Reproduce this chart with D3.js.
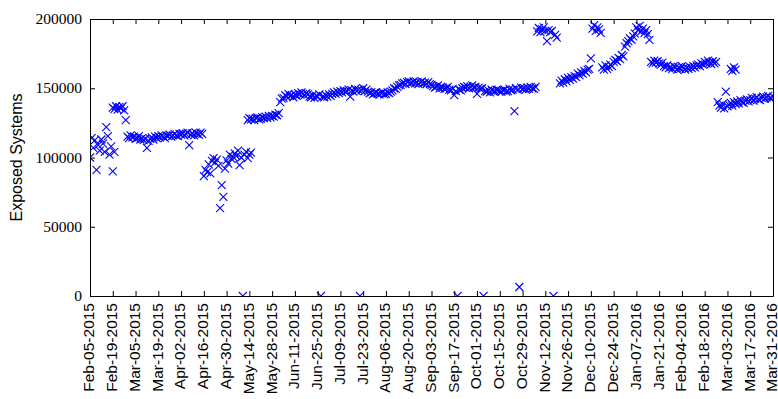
<!DOCTYPE html>
<html>
<head>
<meta charset="utf-8">
<script src="https://cdn.jsdelivr.net/npm/d3@7"></script>
<style>
  body { margin: 0; background: #fff; }
  svg { display: block; }
</style>
</head>
<body>
<svg id="chart" width="778" height="399"></svg>
<script>
// Daily counts of exposed systems, grouped in runs of consecutive days.
// Each run starts on the given date; some runs overlap where two readings exist.
const febScatter15 = [100000, 114000, 107000, 112500, 91000, 109000, 105000, 113000, 110000, 104000, 122000, 115500, 102000, 108000, 90000, 104000];
const febPlateau15 = [136000, 135000, 137000, 134500, 136500, 135500, 137000, 134000, 127000];
const marBand15 = [
  115000, 114000, 116000, 114500, 115000, 113500, 114000, 115500, 113000, 114000,
  112500, 113500, 107000, 112000, 113500, 114500, 113000, 115000, 114000, 115500,
  114500, 116000, 115000, 114000, 116000, 115500, 116500, 115000, 116000, 117000,
  116000, 115500, 117000, 116500, 117500, 116000, 117000, 118000, 109000, 116500,
  117500, 116000, 118000, 117000, 116500, 118000, 117000
];
const aprDip15 = [
  86500, 91000, 89500, 95000, 88500, 97500, 99500, 96500, 98500, 94000,
  63500, 80000, 71500, 92000, 98000, 95500, 102000, 99000, 100500, 103000,
  101000, 105000, 94500, 100000, 0, 102000, 104000, 99500, 102000, 103500
];
const mayPlateau15 = [127000, 128500, 127500, 128000, 127000, 128500, 129000, 127500, 128000, 129000, 128500, 129500, 128500, 130000, 129000, 130000, 129500, 131000, 130500, 132000];
const summer15 = [
  140000, 142500, 143000, 145000, 144000, 146000, 144500, 145000, 143500, 145500,
  144500, 146500, 145500, 147000, 146000, 145000, 146500, 145500, 144000,
  143500, 145000, 143000, 144500, 144000, 145500, 0, 144000, 143500, 145000,
  144000, 145500, 144500, 146000,
  147000, 146000, 147500, 146500, 148000, 147000, 148500, 147500,
  148000, 149000, 144000, 148500, 147500, 149500, 148000, 149000, 0, 148500,
  150000, 148000, 149000, 147500,
  146500, 147000, 145500, 146500, 147000, 146000, 145500, 146500, 147000, 145500,
  146000, 147000, 146500, 147500,
  148500, 150000, 149500, 151000, 152000, 152500
];
const autumn15 = [
  153500, 154000, 153000, 154500, 155000, 153500, 154000, 155000, 153500, 154500,
  153000, 154000, 155000, 153500, 154000, 153000, 154500, 153000, 152500,
  151500, 150500, 151000, 152000, 150000, 151000, 150500, 149500, 150000, 151000,
  149000, 148500, 149500, 145000, 148000, 0, 149000, 148500,
  150000, 151000, 150500, 151500, 150000, 151000, 152000, 150500, 151000, 146000,
  150500, 149500, 150000, 0,
  148000, 147500, 148500, 147000, 149000, 148000, 147500, 149000, 148500,
  148000, 147500, 148500, 149000, 147500, 148000, 149500, 148500, 149000, 133500,
  150000, 149000, 6500, 150500, 149500, 150000, 149000, 150500, 149500, 151000,
  150000, 149500, 151000
];
const novHigh15 = [191000, 193500, 190500, 192500, 194000, 191500, 184000, 192000, 190500, 191500, 0, 188500, 186500];
const novRise15 = [153500, 155500, 154000, 156500, 155000, 157500, 156000, 158000, 157000, 159000, 158000, 160500, 159500, 161500, 160500, 162500, 161500, 163500, 164000, 171500];
const decHigh15 = [193000, 195500, 191500, 194000, 192500, 190000];
const decBand15 = [
  165000, 163500, 166500, 164000, 165500, 167000, 166000, 169000, 170500, 169500,
  172000, 171000, 174000, 173000, 180000, 182500, 184000, 186000, 185000, 187500,
  189500, 194000, 192000, 195000, 191000, 193000, 190000, 192000, 189000, 185000
];
const janFeb16 = [
  169000, 168000, 170000, 168500, 169500, 168000, 167000, 168500,
  166000, 165000, 166500, 164500, 165500, 164000, 166000, 165000, 163500, 165000,
  164000, 166000, 164500, 163500, 165000, 164000, 165500, 164500, 166000, 165000, 166500,
  167000, 166000, 168000, 167000, 169000, 168000, 170000, 168500, 167500, 169500, 168000, 169000
];
const febLow16 = [140000, 137500, 136000, 138500, 135500, 147500, 137000];
const marHigh16 = [164000, 162500, 165000, 163500];
const marBand16 = [
  138000, 139500, 137500, 140000, 138500,
  140500, 139000, 141500, 140000, 139500, 141000, 142000, 140500, 141500, 143000,
  141000, 142500, 143500, 142000, 141500, 143000, 144000, 142500, 143500, 144500,
  143000, 142500, 144000
];

const runStarts = ["2015-02-05", "2015-02-19", "2015-02-28", "2015-04-16", "2015-05-13", "2015-06-02",
                   "2015-08-16", "2015-11-07", "2015-11-21", "2015-12-11", "2015-12-17", "2016-01-16",
                   "2016-02-26", "2016-03-05", "2016-03-04"];
const runValues = [febScatter15, febPlateau15, marBand15, aprDip15, mayPlateau15, summer15,
                   autumn15, novHigh15, novRise15, decHigh15, decBand15, janFeb16,
                   febLow16, marHigh16, marBand16];

const tickDates = ["2015-02-05", "2015-02-19", "2015-03-05", "2015-03-19", "2015-04-02", "2015-04-16",
                   "2015-04-30", "2015-05-14", "2015-05-28", "2015-06-11", "2015-06-25", "2015-07-09",
                   "2015-07-23", "2015-08-06", "2015-08-20", "2015-09-03", "2015-09-17", "2015-10-01",
                   "2015-10-15", "2015-10-29", "2015-11-12", "2015-11-26", "2015-12-10", "2015-12-24",
                   "2016-01-07", "2016-01-21", "2016-02-04", "2016-02-18", "2016-03-03", "2016-03-17",
                   "2016-03-31"];
const yTicks = [0, 50000, 100000, 150000, 200000];
const yTitle = "Exposed Systems";

const parse = d3.utcParse("%Y-%m-%d");
const fmt = d3.utcFormat("%b-%d-%Y");

const plot = { left: 90, top: 19, right: 773, bottom: 296 };

const x = d3.scaleUtc()
  .domain([parse(tickDates[0]), parse(tickDates[tickDates.length - 1])])
  .range([plot.left, plot.right]);
const y = d3.scaleLinear().domain([0, 200000]).range([plot.bottom, plot.top]);

const points = runStarts.flatMap((s, r) =>
  runValues[r].map((v, i) => ({ date: d3.utcDay.offset(parse(s), i), value: v })));

const svg = d3.select("#chart");

svg.append("defs").append("clipPath").attr("id", "plot-area")
  .append("rect")
  .attr("x", plot.left).attr("y", plot.top)
  .attr("width", plot.right - plot.left).attr("height", plot.bottom - plot.top);

// markers
svg.append("g")
  .attr("clip-path", "url(#plot-area)")
  .selectAll("path")
  .data(points)
  .join("path")
  .attr("transform", d => `translate(${x(d.date)},${y(d.value)})`)
  .attr("d", "M-4,-4L4,4M-4,4L4,-4")
  .attr("fill", "none")
  .attr("stroke", "#0000ff")
  .attr("stroke-width", 1.1);

const tickVals = tickDates.map(parse);

function styleAxis(g) {
  g.selectAll(".domain").attr("stroke", "#000").attr("stroke-width", 1);
  g.selectAll(".tick line").attr("stroke", "#000").attr("stroke-width", 1);
}

// bottom axis with rotated date labels
const bottom = svg.append("g")
  .attr("transform", `translate(0,${plot.bottom})`)
  .call(d3.axisBottom(x).tickValues(tickVals).tickFormat(fmt).tickSizeInner(-5).tickSizeOuter(0))
  .call(styleAxis);
bottom.selectAll(".tick text")
  .attr("transform", "rotate(-90)")
  .attr("x", -7)
  .attr("y", 0)
  .attr("dy", "0.25em")
  .attr("text-anchor", "end")
  .attr("fill", "#000")
  .style("font-family", "'Liberation Sans', Arial, sans-serif")
  .style("font-size", "15.5px");

// top axis, ticks only
svg.append("g")
  .attr("transform", `translate(0,${plot.top})`)
  .call(d3.axisTop(x).tickValues(tickVals).tickFormat("").tickSizeInner(-5).tickSizeOuter(0))
  .call(styleAxis);

// left axis with serif numbers
const left = svg.append("g")
  .attr("transform", `translate(${plot.left},0)`)
  .call(d3.axisLeft(y).tickValues(yTicks).tickFormat(d3.format("d")).tickSizeInner(-5).tickSizeOuter(0).tickPadding(8))
  .call(styleAxis);
left.selectAll(".tick text")
  .attr("fill", "#000")
  .attr("dy", "0.3em")
  .style("font-family", "'Liberation Serif', 'Times New Roman', serif")
  .style("font-size", "15.5px");

// right axis, ticks only
svg.append("g")
  .attr("transform", `translate(${plot.right},0)`)
  .call(d3.axisRight(y).tickValues(yTicks).tickFormat("").tickSizeInner(-5).tickSizeOuter(0))
  .call(styleAxis);

// y-axis title
svg.append("text")
  .attr("transform", `translate(22,${(plot.top + plot.bottom) / 2}) rotate(-90)`)
  .attr("text-anchor", "middle")
  .attr("fill", "#000")
  .style("font-family", "'Liberation Sans', Arial, sans-serif")
  .style("font-size", "16px")
  .text(yTitle);
</script>
</body>
</html>
